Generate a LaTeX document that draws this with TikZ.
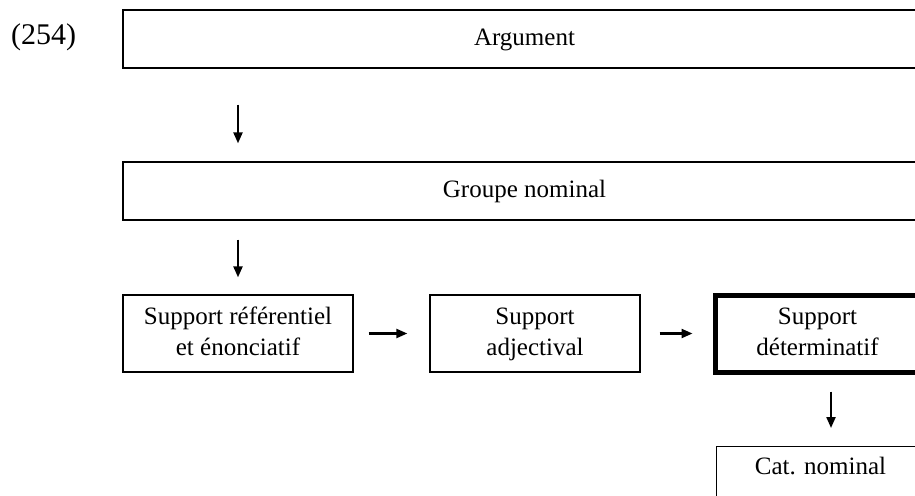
\documentclass[tikz,border=0pt]{standalone}
\usepackage{fontspec}
\setmainfont{Liberation Serif}
\usetikzlibrary{arrows.meta}
\begin{document}
\begin{tikzpicture}[x=1pt,y=-1pt,
  every node/.style={font=\fontsize{25}{31}\selectfont, align=center, inner sep=0pt},
  wide/.style={draw, line width=1.3pt, minimum width=803pt, minimum height=58pt},
  sbox/.style={draw, line width=1.3pt, minimum height=77pt},
  boldbox/.style={draw, line width=5pt, minimum height=77pt},
  arr/.style={line width=2.2pt, -{Triangle[length=11pt,width=9pt]}}
]
\clip (0,0) rectangle (915,495);
\fill[white] (0,0) rectangle (915,495);
\node[font=\fontsize{30}{34}\selectfont] (num) at (43.5,37) {(254)};
\node[wide] (arg) at (524.5,39) {\strut Argument};
\node[wide] (grp) at (524.5,191) {\strut Groupe nominal};
\node[sbox, minimum width=230pt] (b1) at (238,333.5) {\strut Support référentiel\\\strut et énonciatif};
\node[sbox, minimum width=210pt] (b2) at (535,333.5) {\strut Support\\\strut adjectival};
\node[boldbox, minimum width=205pt] (b3) at (817.5,333.5) {\strut Support\\\strut déterminatif};
\node[draw, line width=1.3pt, minimum width=209pt, minimum height=50pt, anchor=north west] (cat) at (716,446) {};
\node at (820.5,468) {\strut Cat. nominal};
\draw[arr, shorten <=36pt, shorten >=18pt] (arg.south -| b1.center) -- (grp.north -| b1.center);
\draw[arr, shorten <=19pt, shorten >=17pt] (grp.south -| b1.center) -- (b1.north);
\draw[arr, shorten <=15pt, shorten >=22pt] (b1.east) -- (b2.west);
\draw[arr, shorten <=19pt, shorten >=20pt] (b2.east) -- (b3.west);
\draw[arr, shorten <=17pt, shorten >=18pt] ([xshift=13.5pt]b3.south) -- ([xshift=13.5pt]b3.south |- cat.north);
\end{tikzpicture}
\end{document}
